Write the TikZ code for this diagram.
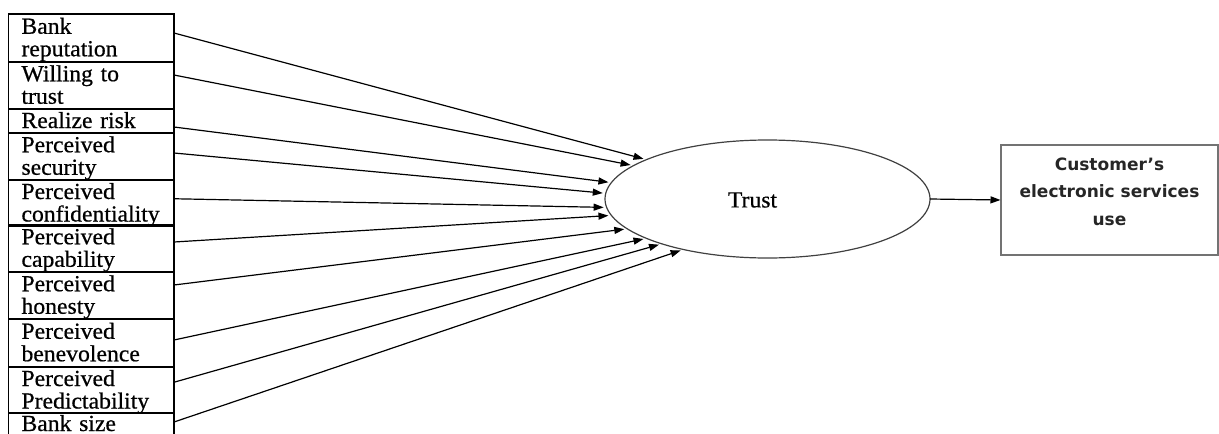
\documentclass[tikz,border=0pt]{standalone}
\usepackage{fontspec}
\setmainfont{Liberation Serif}
\newfontfamily\factorfont[FakeStretch=1.03,FakeBold=0.6]{Liberation Serif}
\newfontfamily\svcfont{DejaVu Sans Bold}
\usetikzlibrary{arrows.meta,shapes.geometric}

\begin{document}
\begin{tikzpicture}[x=1pt,y=-1pt,
  factor/.style={draw=black, line width=1.8pt, outer sep=0pt, anchor=north west,
    minimum width=165.5pt, text width=139.5pt, inner xsep=13pt, inner ysep=0pt,
    align=left, text height=19pt, text depth=5pt,
    font=\factorfont\fontsize{23}{22.5}\selectfont},
  factortwo/.style={factor, text depth=27.5pt},
  link/.style={line width=1.2pt, -{Triangle[length=10pt,width=7pt]}, shorten >=3pt},
  construct/.style={ellipse, draw=black!75, line width=1.2pt, inner sep=0pt, outer sep=0pt,
    minimum width=325pt, minimum height=118pt},
  outcome/.style={draw=black!55, line width=1.6pt, inner sep=0pt, outer sep=0pt,
    minimum width=217pt, minimum height=110pt},
  outtext/.style={font=\svcfont\fontsize{17}{27.5}\selectfont, align=center,
    inner sep=0pt, anchor=north, text=black!85}
]
\useasboundingbox (0,0) rectangle (1219,434);
\clip (0,0) rectangle (1219,434);

% antecedent factors, stacked boxes
\node[factortwo, minimum height=48pt] (b1)  at (8.5,14)  {Bank\\reputation};
\node[factortwo, minimum height=47pt] (b2)  at (8.5,62)  {Willing to\\trust};
\node[factor,    minimum height=24pt] (b3)  at (8.5,109) {Realize risk};
\node[factortwo, minimum height=47pt] (b4)  at (8.5,133) {Perceived\\security};
\node[factortwo, minimum height=45pt] (b5)  at (8.5,180) {Perceived\\confidentiality};
\node[factortwo, minimum height=47pt] (b6)  at (8.5,225) {Perceived\\capability};
\node[factortwo, minimum height=47pt] (b7)  at (8.5,272) {Perceived\\honesty};
\node[factortwo, minimum height=48pt] (b8)  at (8.5,319) {Perceived\\benevolence};
\node[factortwo, minimum height=46pt] (b9)  at (8.5,367) {Perceived\\Predictability};
\node[factor,    minimum height=24pt, text height=17pt] (b10) at (8.5,413) {Bank size};

% central construct
\node[construct] (trust) at (767.5,199) {};
\node[font=\factorfont\fontsize{23}{22.5}\selectfont, inner sep=0pt] (trustlabel)
  at ([xshift=-15pt,yshift=-1pt]trust.center) {Trust};

% outcome
\node[outcome] (svc) at (1109.5,200) {};
\node[outtext] (svclabel) at ([yshift=-12.5pt]svc.north)
  {Customer’s\\electronic services\\use};

% paths into trust
\draw[link] ([yshift=5pt]b1.east)    -- (trust.162.6);
\draw[link] ([yshift=10.5pt]b2.east) -- (trust.166.6);
\draw[link] ([yshift=-6pt]b3.east)   -- (trust.174.4);
\draw[link] ([yshift=3.5pt]b4.east)  -- (trust.178.6);
\draw[link] ([yshift=4.5pt]b5.east)  -- (trust.183.2);
\draw[link] ([yshift=6.5pt]b6.east)  -- (trust.186.4);
\draw[link] ([yshift=10.5pt]b7.east) -- (trust.192.4);
\draw[link] ([yshift=3pt]b8.east)    -- (trust.198.6);
\draw[link] ([yshift=8pt]b9.east)    -- (trust.203.2);
\draw[link] ([yshift=3pt]b10.east)   -- (trust.211.1);

% trust to outcome
\draw[link, shorten >=0.5pt] (trust.east) -- (svc.west);
\end{tikzpicture}
\end{document}
